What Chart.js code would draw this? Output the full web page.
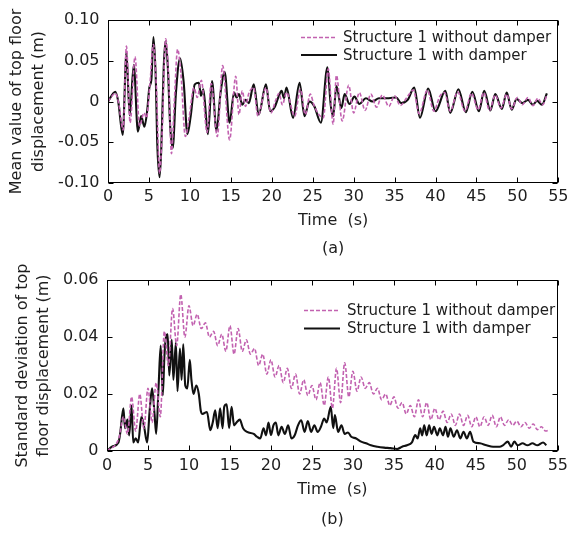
<!DOCTYPE html>
<html><head><meta charset="utf-8">
<script src="https://cdn.jsdelivr.net/npm/chart.js@4/dist/chart.umd.min.js"></script>
<style>
html,body{margin:0;padding:0;background:#fff;overflow:hidden;width:573px;height:533px;}
#w1{position:absolute;left:0;top:0;width:573px;height:265px;}
#w2{position:absolute;left:0;top:262px;width:573px;height:273px;}
canvas{display:block;}
</style></head><body>
<div id="w1"><canvas id="c1" width="573" height="265"></canvas></div>
<div id="w2"><canvas id="c2" width="573" height="273"></canvas></div>
<script>
// ---------- tick values / labels ----------
const xTicks = [0,5,10,15,20,25,30,35,40,45,50,55];
const xTickLabels = ['0','5','10','15','20','25','30','35','40','45','50','55'];
const yTicksTop = [-0.10,-0.05,0,0.05,0.10];
const yTickLabelsTop = ['-0.10','-0.05','0','0.05','0.10'];
const yTicksBottom = [0,0.02,0.04,0.06];
const yTickLabelsBottom = ['0','0.02','0.04','0.06'];
const seriesNames = ['Structure 1 without damper','Structure 1 with damper'];

// ---------- (a) mean value of top floor displacement ----------
const meanTimeNo = [0,0.9,1.3,1.85,2.25,2.7,3.3,3.85,4.4,4.7,5.1,5.55,5.9,6.3,6.6,7.05,7.4,7.75,8.1,8.5,8.9,9.45,9.9,10.5,10.9,11.4,12.1,12.6,13.35,14.0,14.85,15.6,16.0,16.4,16.8,17.2,17.8,18.3,19.3,19.9,20.5,20.9,21.3,21.8,22.8,23.5,24.1,24.7,25.2,26.3,26.9,27.5,27.9,28.6,29.4,30.0,30.7,31.4,32.1,32.8,33.5,34.3,35.0,35.7,36.5,37.3,38.0,39.0,39.8,40.5,41.1,41.8,42.7,43.6,44.4,45.2,45.9,46.6,47.3,48.0,48.7,49.3,50.0,50.6,51.3,51.9,52.5,53.1,53.6];
const meanNo = [0,0.010,-0.002,-0.035,0.068,-0.026,0.055,-0.030,-0.014,-0.020,0.019,0.070,0.020,-0.088,-0.040,0.077,0.030,-0.064,0.000,0.064,0.035,-0.043,-0.020,0.017,0.005,0.026,-0.038,0.022,-0.043,0.044,-0.047,0.031,-0.016,0.013,-0.006,0.010,0.017,-0.018,0.017,-0.014,0.002,0.010,-0.004,0.011,-0.018,0.015,-0.016,0.009,-0.006,-0.020,0.040,-0.028,0.032,-0.024,0.020,-0.014,0.011,-0.011,0.009,-0.007,0.008,-0.006,0.007,-0.005,0.005,0.014,-0.015,0.014,-0.012,0.006,0.011,-0.012,0.012,-0.012,0.010,-0.010,0.011,-0.011,0.008,-0.008,0.009,-0.009,0.005,-0.004,0.005,-0.005,0.004,-0.004,0.008];
const meanTimeWith = [0,0.9,1.25,1.8,2.25,2.65,3.15,3.65,4.05,4.45,4.8,5.05,5.3,5.55,5.85,6.0,6.3,6.5,6.8,7.0,7.3,7.6,7.9,8.3,8.8,9.25,9.7,10.1,10.6,11.1,11.35,11.65,12.2,12.7,13.25,13.75,14.25,14.85,15.4,15.7,16.0,16.4,16.8,17.2,17.8,18.4,19.3,19.8,20.4,20.8,21.2,21.5,21.8,22.6,23.4,24.0,24.6,25.2,26.0,26.8,27.2,27.5,27.9,28.5,28.9,29.5,30.1,30.7,31.5,32.3,33.1,34.3,35.2,35.8,36.6,37.4,38.1,39.1,40.0,41.2,41.8,42.8,43.7,44.5,45.3,45.95,46.7,47.3,48.1,48.7,49.3,49.9,50.6,51.3,51.9,52.4,53.0,53.6];
const meanWith = [0,0.012,0.0,-0.041,0.060,-0.017,0.045,-0.037,-0.018,-0.031,-0.010,0.017,0.027,0.079,0.023,-0.047,-0.093,-0.060,0.040,0.074,0.044,-0.031,-0.057,0.011,0.053,0.023,-0.040,-0.018,0.021,0.023,0.007,0.015,-0.040,0.025,-0.036,0.011,0.036,-0.026,0.011,0.005,0.009,-0.004,0.002,-0.002,0.021,-0.016,0.021,-0.012,-0.006,0.005,0.013,0.004,0.017,-0.020,0.023,-0.018,0.000,-0.006,-0.026,0.042,-0.004,-0.018,0.019,-0.008,0.009,-0.003,0.006,-0.003,0.004,0.000,0.004,0.004,0.005,-0.002,0.002,0.017,-0.020,0.016,-0.012,0.013,-0.014,0.015,-0.013,0.012,-0.012,0.013,-0.011,0.009,-0.009,0.011,-0.010,0.003,-0.002,0.002,-0.004,0.001,-0.004,0.010];

// ---------- (b) standard deviation of top floor displacement ----------
const sdTimeNo = [0,0.5,1,1.5,2,2.5,3,3.5,4,4.5,5,5.5,6,6.5,7,7.5,8,8.5,9,9.5,10,10.5,11,11.5,12,12.5,13,13.5,14,14.5,15,15.5,16,16.5,17,17.5,18,18.5,19,19.5,20,20.5,21,21.5,22,22.5,23,23.5,24,24.5,25,25.5,26,26.5,27,27.5,28,28.5,29,29.5,30,30.5,31,31.5,32,32.5,33,33.5,34,34.5,35,35.5,36,36.5,37,37.5,38,38.5,39,39.5,40,40.5,41,41.5,42,42.5,43,43.5,44,44.5,45,45.5,46,46.5,47,47.5,48,48.5,49,49.5,50,50.5,51,51.5,52,52.5,53,53.5,54];
const sdNo = [0,0.001,0.002,0.005,0.012,0.006,0.019,0.007,0.020,0.008,0.022,0.010,0.024,0.012,0.042,0.030,0.050,0.037,0.055,0.040,0.051,0.044,0.048,0.043,0.045,0.040,0.042,0.037,0.041,0.035,0.044,0.034,0.043,0.035,0.039,0.034,0.036,0.030,0.034,0.027,0.032,0.026,0.030,0.024,0.029,0.022,0.027,0.020,0.025,0.0195,0.023,0.018,0.024,0.016,0.026,0.015,0.029,0.017,0.031,0.019,0.028,0.021,0.026,0.022,0.024,0.020,0.022,0.018,0.020,0.016,0.019,0.015,0.017,0.013,0.016,0.012,0.018,0.012,0.017,0.011,0.015,0.011,0.014,0.010,0.013,0.009,0.013,0.009,0.0125,0.0085,0.012,0.0085,0.012,0.009,0.0125,0.0085,0.012,0.009,0.011,0.009,0.0105,0.0085,0.010,0.008,0.0095,0.0075,0.0085,0.007,0.0075];
const sdTimeWith = [0,0.6,1.4,1.6,2.0,2.2,2.5,2.7,3.0,3.2,3.5,3.8,4.2,4.5,4.9,5.2,5.5,5.8,6.0,6.3,6.55,6.8,7.0,7.2,7.4,7.6,7.9,8.1,8.4,8.6,8.9,9.1,9.3,9.55,9.8,10.1,10.3,10.55,10.9,11.2,11.45,11.65,12.2,12.6,12.9,13.2,13.5,13.8,14.1,14.3,14.6,14.9,15.2,15.5,15.8,16.2,16.6,17.1,17.9,18.3,18.7,19.1,19.4,19.7,20.0,20.3,20.6,20.9,21.3,21.7,22.1,22.5,22.9,23.3,23.7,24.1,24.5,24.9,25.3,25.7,26.1,26.5,26.8,27.3,27.6,27.8,28.2,28.6,29.0,29.4,29.8,30.4,31.0,31.6,32.2,33.0,33.8,34.6,35.4,36.0,36.6,37.2,37.6,37.9,38.2,38.45,38.7,39.0,39.3,39.6,39.9,40.3,40.6,41.0,41.3,41.6,41.9,42.3,42.7,43.1,43.5,43.9,44.3,44.7,45.5,46.3,47.1,47.9,48.3,48.9,49.3,49.7,50.1,50.7,51.3,51.9,52.5,53.2,53.6];
const sdWith = [0,0.0015,0.003,0.006,0.015,0.008,0.011,0.0055,0.016,0.003,0.0045,0.003,0.012,0.009,0.003,0.014,0.022,0.013,0.006,0.023,0.037,0.0195,0.033,0.040,0.041,0.0265,0.039,0.025,0.038,0.021,0.036,0.025,0.0375,0.023,0.022,0.032,0.025,0.020,0.023,0.020,0.014,0.013,0.0137,0.0073,0.010,0.0143,0.008,0.015,0.008,0.0155,0.0164,0.008,0.0155,0.009,0.010,0.011,0.008,0.0067,0.006,0.005,0.0044,0.008,0.0055,0.010,0.0056,0.009,0.010,0.0055,0.0085,0.006,0.009,0.0044,0.0055,0.009,0.0108,0.0067,0.0105,0.0067,0.009,0.0067,0.0085,0.0114,0.010,0.0155,0.008,0.0126,0.0067,0.009,0.006,0.0065,0.005,0.0044,0.0033,0.0027,0.002,0.0015,0.0012,0.001,0.0007,0.0015,0.002,0.003,0.0056,0.0044,0.008,0.0055,0.009,0.0055,0.009,0.006,0.0085,0.0055,0.008,0.0055,0.0085,0.005,0.008,0.005,0.0073,0.0044,0.0067,0.0044,0.0067,0.0033,0.0027,0.002,0.0015,0.0015,0.002,0.0033,0.0015,0.0033,0.002,0.0027,0.002,0.0027,0.002,0.003,0.002];

// ---------- styling ----------
const PINK = '#c262b0';
const BLACK = '#111111';
const TEXT = '#1e1e1e';
Chart.defaults.font.family = "'DejaVu Sans', sans-serif";
Chart.defaults.color = TEXT;

const pts = (ts, vs) => ts.map((t, i) => ({x: t, y: vs[i]}));

const framePlugin = {
  id: 'frame',
  afterDatasetsDraw(chart, args, o) {
    const {ctx, chartArea: a, scales: {x, y}} = chart;
    ctx.save();
    ctx.strokeStyle = '#000';
    ctx.lineWidth = 1;
    const L = Math.round(a.left) + 0.5, R = Math.round(a.right) - 0.5;
    const T = Math.round(a.top) + 0.5, B = Math.round(a.bottom) - 0.5;
    ctx.strokeRect(L, T, R - L, B - T);
    const k = 5;
    ctx.beginPath();
    x.ticks.forEach(t => {
      const p = Math.round(x.getPixelForValue(t.value)) + 0.5;
      ctx.moveTo(p, B); ctx.lineTo(p, B - k);
      ctx.moveTo(p, T); ctx.lineTo(p, T + k);
    });
    y.ticks.forEach(t => {
      const p = Math.round(y.getPixelForValue(t.value)) + 0.5;
      ctx.moveTo(L, p); ctx.lineTo(L + k, p);
      ctx.moveTo(R, p); ctx.lineTo(R - k, p);
    });
    ctx.stroke();
    // legend
    ctx.font = "15px 'DejaVu Sans', sans-serif";
    ctx.textBaseline = 'middle';
    ctx.textAlign = 'left';
    chart.data.datasets.forEach((ds, i) => {
      const yy = o.ly + i * o.row;
      ctx.beginPath();
      ctx.strokeStyle = ds.borderColor;
      ctx.lineWidth = ds.borderWidth;
      ctx.setLineDash(ds.borderDash || []);
      ctx.moveTo(o.lx, yy); ctx.lineTo(o.lx + o.sw, yy);
      ctx.stroke();
      ctx.setLineDash([]);
      ctx.fillStyle = TEXT;
      ctx.fillText(ds.label, o.lx + o.sw + o.gap, yy + 1);
    });
    ctx.restore();
  }
};

function makeChart(id, cfg) {
  return new Chart(document.getElementById(id), {
    type: 'line',
    data: {datasets: [
      {label: seriesNames[0], data: pts(cfg.tNo, cfg.vNo), borderColor: PINK, borderWidth: 1.6, borderDash: [4, 2], pointRadius: 0, cubicInterpolationMode: 'monotone', fill: false},
      {label: seriesNames[1], data: pts(cfg.tWith, cfg.vWith), borderColor: BLACK, borderWidth: 2.1, pointRadius: 0, cubicInterpolationMode: 'monotone', fill: false}
    ]},
    options: {
      responsive: false,
      animation: false,
      devicePixelRatio: 1,
      layout: {padding: {top: cfg.padTop, right: 11, bottom: 0, left: 0}},
      plugins: {legend: {display: false}, tooltip: {enabled: false}, frame: cfg.legend},
      scales: {
        x: {
          type: 'linear', min: 0, max: 55,
          afterBuildTicks: s => { s.ticks = xTicks.map(v => ({value: v})); },
          ticks: {autoSkip: false, maxRotation: 0, padding: cfg.xPad, font: {size: 16}, color: TEXT,
                  callback: (v, i) => xTickLabels[i]},
          grid: {display: false, drawTicks: false},
          border: {display: false},
          title: {display: true, text: cfg.xTitle, color: TEXT,
                  font: {size: 16, lineHeight: cfg.xTitleLH}, padding: {top: 0, bottom: cfg.xTitlePB}},
          afterFit: s => { s.height = cfg.xH; }
        },
        y: {
          type: 'linear', min: cfg.yMin, max: cfg.yMax,
          afterBuildTicks: s => { s.ticks = cfg.yTicks.map(v => ({value: v})); },
          ticks: {autoSkip: false, padding: 8.5, font: {size: 16}, color: TEXT,
                  callback: (v, i) => cfg.yLabels[i]},
          grid: {display: false, drawTicks: false},
          border: {display: false},
          title: {display: true, text: cfg.yTitle, color: TEXT,
                  font: {size: 16, lineHeight: cfg.yTitleLH}, padding: {top: cfg.yTitlePT, bottom: 0}},
          afterFit: s => { s.width = cfg.yW; }
        }
      }
    },
    plugins: [framePlugin]
  });
}

makeChart('c1', {
  tNo: meanTimeNo, vNo: meanNo, tWith: meanTimeWith, vWith: meanWith,
  padTop: 20, xH: 82, xPad: 4.5, xTitle: ['Time  (s)', '(a)'], xTitleLH: 1.75, xTitlePB: 2,
  yMin: -0.1, yMax: 0.1, yTicks: yTicksTop, yLabels: yTickLabelsTop,
  yTitle: ['Mean value of top floor', 'displacement (m)'], yTitleLH: 1.375, yTitlePT: 6, yW: 108,
  legend: {lx: 301, ly: 37.5, row: 17.5, sw: 36, gap: 6}
});

makeChart('c2', {
  tNo: sdTimeNo, vNo: sdNo, tWith: sdTimeWith, vWith: sdWith,
  padTop: 18, xH: 84, xPad: 5, xTitle: ['Time  (s)', '(b)'], xTitleLH: 1.84, xTitlePB: 0.5,
  yMin: 0, yMax: 0.06, yTicks: yTicksBottom, yLabels: yTickLabelsBottom,
  yTitle: ['Standard deviation of top', 'floor displacement (m)'], yTitleLH: 1.3125, yTitlePT: 12.5, yW: 107,
  legend: {lx: 304, ly: 48.5, row: 18, sw: 36, gap: 7}
});
</script>
</body></html>
